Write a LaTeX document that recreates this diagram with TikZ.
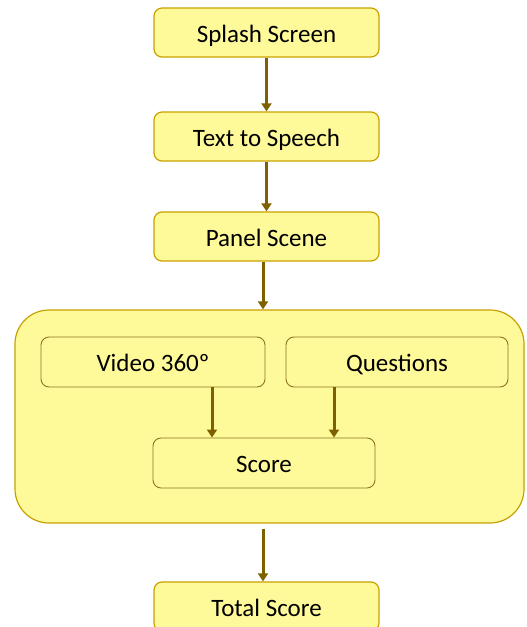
\documentclass[tikz,border=0pt]{standalone}
\usepackage{fontspec}
\setmainfont{Carlito}
\usetikzlibrary{arrows.meta,calc}
\definecolor{boxfill}{HTML}{FFFA99}
\definecolor{goldline}{HTML}{C9A000}
\definecolor{innerline}{HTML}{8C7424}
\definecolor{arrowcol}{HTML}{7F6000}
\tikzset{
  boxtext/.style={font=\fontsize{25}{29}\selectfont, text height=22pt, text depth=3pt},
  mainbox/.style={draw=goldline, line width=1.2pt, fill=boxfill, rounded corners=8pt,
    minimum width=225pt, minimum height=49pt, inner sep=0pt, boxtext},
  innerbox/.style={draw=innerline, line width=0.9pt, fill=boxfill, rounded corners=8pt,
    minimum height=50pt, inner sep=0pt, boxtext},
  groupbox/.style={draw=goldline, line width=1.2pt, fill=boxfill, rounded corners=34pt,
    minimum width=509pt, minimum height=213pt, inner sep=0pt},
  arr/.style={draw=arrowcol, line width=3pt, -{Triangle[length=8pt,width=10pt]}}
}
\begin{document}
\begin{tikzpicture}[x=1pt,y=-1pt]
\useasboundingbox (0,0) rectangle (527,627);
\node[mainbox] (splash) at (266.5,32.5) {Splash Screen};
\node[mainbox] (tts) at (266.5,136.5) {Text to Speech};
\node[mainbox] (panel) at (266.5,236.5) {Panel Scene};
\node[groupbox] (group) at (269.5,416.5) {};
\node[innerbox, minimum width=224pt] (video) at (153,362) {Video 360º};
\node[innerbox, minimum width=222pt] (questions) at (397,362) {Questions};
\node[innerbox, minimum width=222pt] (score) at (264,463) {Score};
\node[mainbox] (total) at (266.5,606.5) {Total Score};
\draw[arr] (splash.south) -- (tts.north);
\draw[arr] (tts.south) -- (panel.north);
\draw[arr] ([xshift=-3.5pt]panel.south) -- ([xshift=-3.5pt]panel.south |- group.north);
\draw[arr] ([xshift=59pt]video.south) -- ([xshift=59pt]video.south |- score.north);
\draw[arr] ([xshift=-63pt]questions.south) -- ([xshift=-63pt]questions.south |- score.north);
\draw[arr, shorten <=5pt] ([xshift=-3.5pt]total.north |- group.south) -- ([xshift=-3.5pt]total.north);
\end{tikzpicture}
\end{document}
